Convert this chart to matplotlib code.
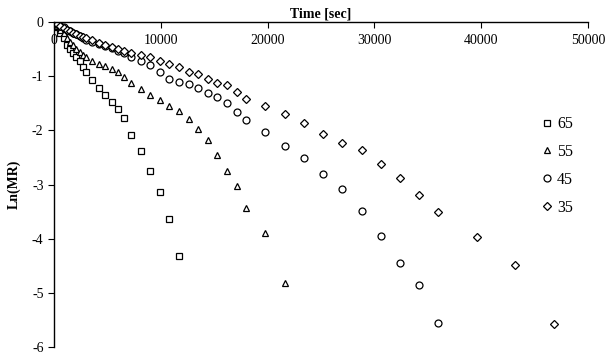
import matplotlib
matplotlib.use('Agg')
import matplotlib.pyplot as plt

plt.rcParams['font.family'] = ['Liberation Serif', 'DejaVu Serif']
plt.rcParams['axes.unicode_minus'] = False

# drying time [sec]
t_early = [0, 300, 600, 900, 1200, 1500, 1800, 2100, 2400, 2700, 3000,
           3600, 4200, 4800, 5400, 6000, 6600, 7200]
t_65 = t_early + [8100, 9000, 9900, 10800, 11700]
t_55 = t_early + [8100, 9000, 9900, 10800, 11700, 12600, 13500, 14400,
                  15300, 16200, 17100, 18000, 19800, 21600]
t_45 = t_early + [8100, 9000, 9900, 10800, 11700, 12600, 13500, 14400,
                  15300, 16200, 17100, 18000, 19800, 21600, 23400, 25200,
                  27000, 28800, 30600, 32400, 34200, 36000]
t_35 = t_early + [8100, 9000, 9900, 10800, 11700, 12600, 13500, 14400,
                  15300, 16200, 17100, 18000, 19800, 21600, 23400, 25200,
                  27000, 28800, 30600, 32400, 34200, 36000, 39600, 43200, 46800]

# Ln(MR) per temperature
ln_65 = [0, -0.10, -0.20, -0.30, -0.42, -0.505, -0.58, -0.654, -0.722, -0.828,
         -0.92, -1.074, -1.217, -1.339, -1.476, -1.605, -1.78, -2.09,
         -2.376, -2.75, -3.135, -3.635, -4.32]
ln_55 = [0, -0.07, -0.14, -0.21, -0.29, -0.36, -0.43, -0.49, -0.55, -0.60,
         -0.65, -0.717, -0.778, -0.82, -0.87, -0.92, -1.013, -1.117,
         -1.24, -1.352, -1.444, -1.55, -1.648, -1.783, -1.98, -2.185,
         -2.45, -2.754, -3.02, -3.43, -3.894, -4.81]
ln_45 = [0, -0.04, -0.07, -0.10, -0.14, -0.17, -0.20, -0.23, -0.26, -0.30,
         -0.33, -0.37, -0.41, -0.44, -0.48, -0.53, -0.58, -0.64,
         -0.72, -0.796, -0.925, -1.05, -1.105, -1.15, -1.222, -1.309,
         -1.388, -1.50, -1.655, -1.815, -2.035, -2.29, -2.506, -2.80,
         -3.08, -3.494, -3.944, -4.45, -4.857, -5.56]
ln_35 = [0, -0.04, -0.08, -0.11, -0.14, -0.17, -0.20, -0.22, -0.25, -0.27,
         -0.30, -0.34, -0.38, -0.42, -0.46, -0.50, -0.54, -0.58,
         -0.60, -0.643, -0.717, -0.778, -0.839, -0.92, -0.969, -1.061,
         -1.124, -1.154, -1.29, -1.43, -1.556, -1.704, -1.87, -2.06,
         -2.228, -2.37, -2.617, -2.883, -3.19, -3.513, -3.976, -4.487, -5.58]

series = [
    ('65', t_65, ln_65, 's', 5.0),
    ('55', t_55, ln_55, '^', 4.4),
    ('45', t_45, ln_45, 'o', 5.0),
    ('35', t_35, ln_35, 'D', 3.6),
]

fig = plt.figure(figsize=(6.14, 3.58), dpi=100)
ax = fig.add_axes([54 / 614, 1 - 347 / 358, 534 / 614, 325 / 358])

for name, t, y, mk, ms in series:
    ax.plot(t, y, linestyle='none', marker=mk, markersize=ms,
            markerfacecolor='white', markeredgecolor='black',
            markeredgewidth=0.9, label=name)

ax.set_xlim(0, 50000)
ax.set_ylim(-6, 0)
ax.set_xticks(range(0, 50001, 10000))
ax.set_yticks(range(-6, 1))

ax.spines['bottom'].set_visible(False)
ax.spines['right'].set_visible(False)
for s in ('top', 'left'):
    ax.spines[s].set_linewidth(1.0)

ax.xaxis.tick_top()
ax.xaxis.set_label_position('top')
ax.tick_params(axis='x', direction='in', length=4, pad=-18, labelsize=10)
ax.tick_params(axis='y', direction='out', length=4, labelsize=10)

ax.set_xlabel('Time [sec]', fontweight='bold', fontsize=10, labelpad=3)
ax.set_ylabel('Ln(MR)', fontweight='bold', fontsize=10, labelpad=8)

ax.legend(loc='upper left', bbox_to_anchor=(0.9, 0.735), frameon=False,
          fontsize=11.5, handlelength=0.6, handletextpad=0.3,
          labelspacing=0.75, borderpad=0)

fig.savefig('out.png', dpi=100)
